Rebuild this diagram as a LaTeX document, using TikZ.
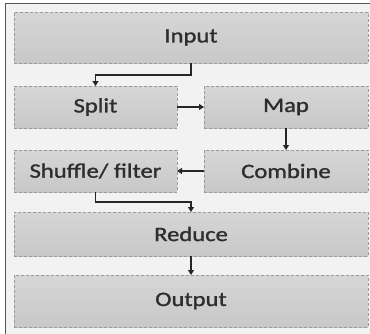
\documentclass[tikz,border=0pt]{standalone}
\usepackage{fontspec}
\setmainfont{Carlito}
\newfontfamily\stagefont{Carlito}[FakeBold=1.2]
\usetikzlibrary{arrows.meta}
\definecolor{panel}{HTML}{F2F2F2}
\definecolor{boxtop}{HTML}{D6D6D6}
\definecolor{boxbot}{HTML}{C8C8C8}
\definecolor{boxline}{HTML}{9A9A9A}
\definecolor{frameline}{HTML}{555555}
\definecolor{label}{HTML}{2E2E2E}
\tikzset{
  stage/.style={draw=boxline, dashed, dash pattern=on 3pt off 2pt, line width=0.8pt,
    top color=boxtop, bottom color=boxbot, inner sep=0pt, outer sep=0pt,
    font=\stagefont\fontsize{20.5}{20.5}\selectfont, text=label},
  flow/.style={line width=1.6pt, draw=black!85, -{Triangle[length=5pt,width=6pt]}},
}
\newcommand{\wide}[1]{\scalebox{1.2}[1]{#1}}
\begin{document}
\begin{tikzpicture}[x=1pt,y=-1pt]
  \useasboundingbox (0,0) rectangle (370,333);
  \fill[white] (0,0) rectangle (370,333);
  \begin{scope}
    \clip (0,0) rectangle (370,333);
    \draw[frameline, line width=1pt, fill=panel] (5,3) rectangle (376,340);
  \end{scope}

  % stages
  \node[stage, minimum width=354pt, minimum height=51pt] (input) at (191,37.5) {\wide{Input}};
  \node[stage, minimum width=163pt, minimum height=42pt] (split) at (95.5,107) {\wide{Split}};
  \node[stage, minimum width=164pt, minimum height=42pt] (map) at (286,107) {\wide{Map}};
  \node[stage, minimum width=163pt, minimum height=42pt] (shuffle) at (95.5,171) {\wide{Shuffle/ filter}};
  \node[stage, minimum width=164pt, minimum height=42pt] (combine) at (286,171) {\wide{Combine}};
  \node[stage, minimum width=354pt, minimum height=44pt] (reduce) at (191,234) {\wide{Reduce}};
  \node[stage, minimum width=354pt, minimum height=52pt] (output) at (191,301) {\wide{Output}};

  % connectors
  \draw[flow] (input.south) -- ++(0,12) -| (split.north);
  \draw[flow] (split.east) -- (map.west);
  \draw[flow] (map.south) -- (combine.north);
  \draw[flow] (combine.west) -- (shuffle.east);
  \draw[flow] (shuffle.south) |- ([yshift=10pt]reduce.north) -- (reduce.north);
  \draw[flow] (reduce.south) -- (output.north);
\end{tikzpicture}
\end{document}
